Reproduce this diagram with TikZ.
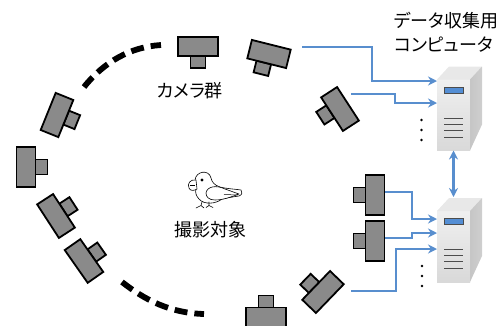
\documentclass[tikz,border=0pt]{standalone}
\usepackage{fontspec}
\newfontfamily\jpfont[RawFeature=+palt]{Noto Sans CJK JP}
\usetikzlibrary{arrows.meta,calc}
\definecolor{linkblue}{RGB}{88,142,206}
\definecolor{barblue}{RGB}{84,142,212}
\definecolor{camgray}{RGB}{138,138,138}

% front panel, top and side of a tower computer around node #1
\newcommand{\towershell}[1]{%
  \fill[gray!18] (#1.north west) -- ++(12,-13) -- ++(33,0) -- ($(#1.north east)$) -- cycle;
  \shade[left color=gray!45,right color=gray!38] (#1.north east) -- ++(12,-13) -- ++(0,58) -- (#1.south east) -- cycle;
  \draw[draw=black!70,fill=barblue,line width=0.6pt] ($(#1.north west)+(7,7.5)$) rectangle ($(#1.north west)+(26,13.5)$);
  \foreach \dy in {38.5,44.5,50.5,57.5}
    \draw[black!70,line width=1pt] ($(#1.north west)+(7,\dy)$) -- ($(#1.north west)+(26,\dy)$);
}

\begin{document}
\begin{tikzpicture}[x=1pt,y=-1pt,
  camline/.style={draw=black,line width=1.8pt,fill=camgray,line join=miter},
  link/.style={draw=linkblue,line width=2.3pt,-{Stealth[length=9pt,width=9pt]}},
  ring/.style={line width=5.8pt,dash pattern=on 13pt off 7pt},
  caption/.style={font=\jpfont\fontsize{18}{21}\selectfont,inner sep=0pt},
  towerfront/.style={minimum width=33pt,minimum height=71pt,inner sep=0pt,outer sep=0pt,
    top color=gray!12,bottom color=gray!30,draw=none},
  birdline/.style={draw=black,line width=0.6pt,fill=white,line join=round},
  pics/cam/.style={code={
     \draw[camline] (#1-7.5,9.5) rectangle (#1+7.5,21.5);
     \draw[camline] (-20,-9.5) rectangle (20,9.5);}},
  pics/cam/.default=0
]
\useasboundingbox (0,0) rectangle (504,325);

% cameras around the subject
\pic[rotate=0]    at (198,46.5) {cam};
\pic[rotate=-14]  at (269,54)   {cam=-3};
\pic[rotate=-57]  at (340,109)  {cam=-3};
\pic[rotate=68]   at (57,115)   {cam=1};
\pic[rotate=90]   at (26,167)   {cam};
\pic[rotate=123]  at (56,216)   {cam=1};
\pic[rotate=125]  at (84,261)   {cam};
\pic[rotate=180]  at (266,317)  {cam};
\pic[rotate=-134] at (323,292)  {cam=3};
\pic[rotate=-90]  at (375,195)  {cam};
\pic[rotate=-90]  at (375,241)  {cam};

% gaps of the ring
\draw[ring] (84,87) .. controls (104,62) and (130,47) .. (161,45);
\draw[ring] (122,282) .. controls (145,300) and (170,313) .. (204,314);

% the subject: a small parrot facing left
\draw[birdline] (195,180) .. controls (196,171) and (209,169) .. (211,178)
  .. controls (212,182) and (214,185) .. (220,187)
  .. controls (228,189) and (235,189) .. (241,190)
  .. controls (243,192) and (242,195) .. (239,196)
  .. controls (232,197) and (226,198) .. (222,199)
  .. controls (216,204) and (204,205) .. (199,199)
  .. controls (196,196) and (195,192) .. (196,189) -- cycle;
\draw[birdline] (196,180) .. controls (190,179) and (187,184) .. (189,188)
  .. controls (190,191) and (194,191) .. (197,189) -- cycle;
\draw[black,line width=0.5pt] (190,185) -- (195,185);
\draw[birdline] (206,193) .. controls (207,186) and (217,185) .. (225,189)
  -- (239,194) .. controls (231,197) and (223,200) .. (215,200)
  .. controls (209,200) and (206,197) .. (206,193) -- cycle;
\draw[black,line width=0.5pt] (224,194.5) -- (238,195);
\fill (202,180) circle (1.6);
\draw[black,line width=0.6pt,line cap=round] (202,202) -- (201,205.5) (209,202) -- (209,205.5)
  (196,208) -- (201,205.5) -- (204,208) (206,207.5) -- (209,205.5) -- (213,207.5);

% captions
\node[caption] (camlabel) at (190,90.5) {カメラ群};
\node[caption] (subjlabel) at (210.5,230) {撮影対象};
\node[caption,anchor=west] (pclabel1) at (394,20.5) {データ収集用};
\node[caption,anchor=west] (pclabel2) at (394,45) {コンピュータ};

% collecting computers
\node[towerfront] (s1) at (453.5,115) {};
\towershell{s1}
\node[towerfront] (s2) at (453.5,246.5) {};
\towershell{s2}

\foreach \y in {120,130,140} \fill (421.5,\y) circle (1.4);
\foreach \y in {266,276,286} \fill (422,\y) circle (1.4);

% cable start points
\coordinate (a2) at (302,47);
\coordinate (a3) at (351,94);
\coordinate (a10) at (385,192);
\coordinate (a11) at (385,238);
\coordinate (a9) at (351,291);

\draw[link] (a2) -- (372,47) -- (372,81) -- (s1.west |- 0,81);
\draw[link] (a3) -- (395,94) -- (395,103) -- (s1.west |- 0,103);
\draw[link] (a10) -- (412,192) -- (412,219) -- (s2.west |- 0,219);
\draw[link] (a11) -- (412,238) -- (412,233) -- (s2.west |- 0,233);
\draw[link] (a9) -- (396,291) -- (396,249) -- (s2.west |- 0,249);
\draw[link,{Stealth[length=9pt,width=9pt]}-{Stealth[length=9pt,width=9pt]}] (s1.south) -- ($(s2.north)+(0,-14)$);

\end{tikzpicture}
\end{document}
